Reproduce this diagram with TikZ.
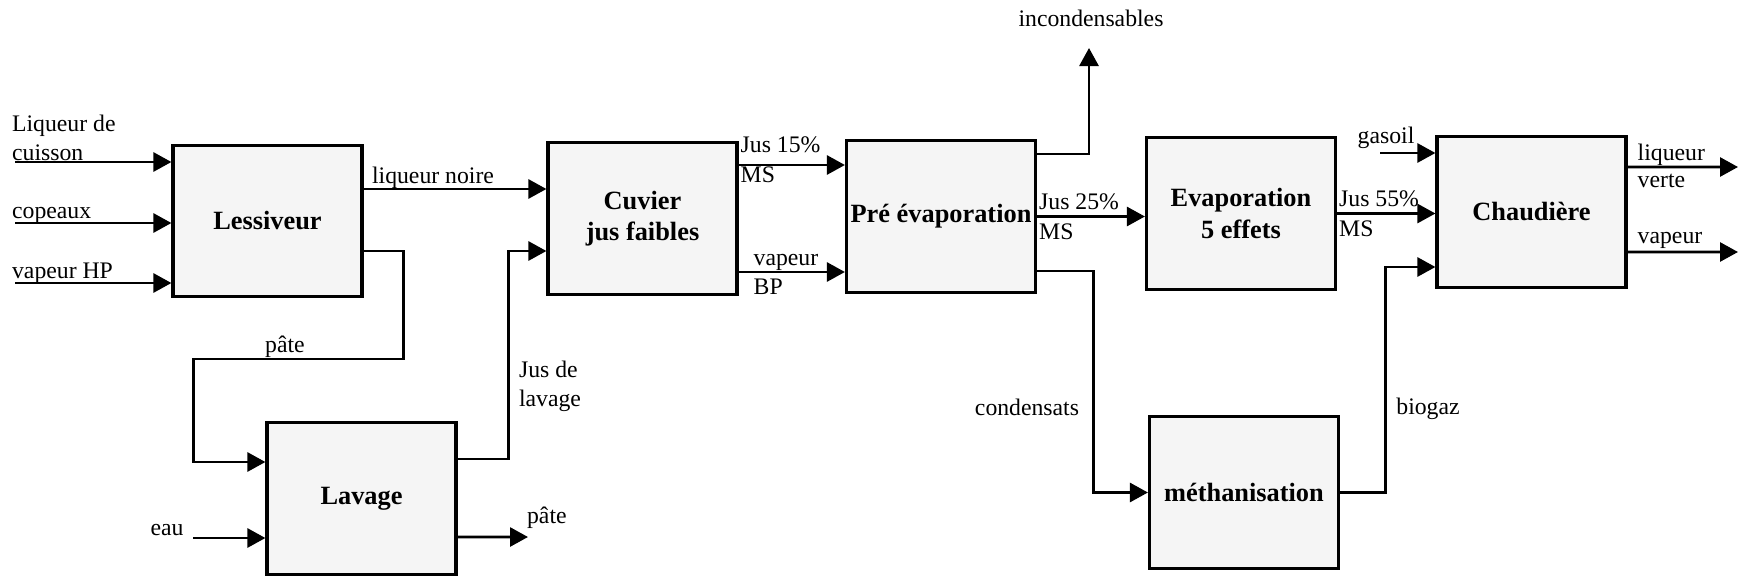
\documentclass[tikz,border=0pt]{standalone}
\usepackage{fontspec}
\setmainfont{Liberation Serif}
\usetikzlibrary{arrows.meta}

\begin{document}
\begin{tikzpicture}[x=1cm,y=1cm]
\tikzset{
  procbox/.style={rectangle,draw,line width=1.8pt,fill=black!4,minimum width=3.78cm,minimum height=3.03cm,inner sep=1pt,align=center,font=\fontsize{15}{18}\selectfont\bfseries},
  flow/.style={-{Triangle[length=3.6mm,width=3.8mm]},line width=1.6pt},
  lbl/.style={inner sep=1pt,align=left,font=\fontsize{13.5}{16.5}\selectfont},
  lblabove/.style={lbl,anchor=base west,yshift=1.4mm},
  lblbelow/.style={lbl,anchor=north west,yshift=-1mm}
}
\useasboundingbox (0,0) rectangle (34.84,11.62);
\node[procbox] (n_lessiveur) at (5.35,7.20) {Lessiveur};
\node[procbox] (n_cuvier) at (12.85,7.25) {Cuvier\\jus faibles};
\node[procbox] (n_preevap) at (18.82,7.29) {Pré évaporation};
\node[procbox] (n_evap) at (24.82,7.35) {Evaporation\\5 effets};
\node[procbox] (n_chaudiere) at (30.63,7.38) {Chaudière};
\node[procbox] (n_lavage) at (7.23,1.65) {Lavage};
\node[procbox] (n_metha) at (24.88,1.77) {méthanisation};
\coordinate (c_cuisson) at (0.3,8.38);
\coordinate (c_copeaux) at (0.3,7.16);
\coordinate (c_vapeurhp) at (0.3,5.96);
\coordinate (c_eau) at (3.86,0.86);
\coordinate (c_pate) at (10.56,0.88);
\coordinate (c_incond) at (21.78,10.66);
\coordinate (c_gasoil) at (27.6,8.56);
\coordinate (c_verte) at (34.76,8.28);
\coordinate (c_vapeur) at (34.76,6.58);
% entrees du lessiveur
\draw[flow] (c_cuisson) -- (c_cuisson -| n_lessiveur.west);
\draw[flow] (c_copeaux) -- (c_copeaux -| n_lessiveur.west);
\draw[flow] (c_vapeurhp) -- (c_vapeurhp -| n_lessiveur.west);
\node[lbl,anchor=south west] (l_cuisson) at (0.2,8.36) {Liqueur de\\cuisson};
\node[lbl,anchor=base west] (l_copeaux) at (0.2,7.26) {copeaux};
\node[lbl,anchor=base west] (l_vapeurhp) at (0.2,6.05) {vapeur HP};
% liqueur noire et pate
\draw[flow] ([yshift=6.4mm]n_lessiveur.east) coordinate (c_noire) -- (c_noire -| n_cuvier.west);
\node[lbl,anchor=base] (l_noire) at (8.66,7.96) {liqueur noire};
\draw[flow] ([yshift=-6mm]n_lessiveur.east) -- ++(0.8,0) -- ++(0,-2.16) -- ++(-4.2,0) |- ([yshift=7.3mm]n_lavage.west);
\node[lbl,anchor=base] (l_pate1) at (5.7,4.58) {pâte};
\draw[flow] ([yshift=7.9mm]n_lavage.east) -- ++(1.02,0) |- ([yshift=-6.5mm]n_cuvier.west);
\node[lbl,anchor=west] (l_juslav) at (10.34,3.9) {Jus de\\lavage};
\draw[flow] (c_eau) -- (c_eau -| n_lavage.west);
\node[lbl,anchor=base] (l_eau) at (3.34,0.92) {eau};
\draw[flow] ([yshift=-7.7mm]n_lavage.east) -- (c_pate);
\node[lbl,anchor=base west] (l_pate2) at (10.5,1.16) {pâte};
% cuvier -> pre evaporation
\draw[flow] ([yshift=10.7mm]n_cuvier.east) coordinate (c_j15) -- (c_j15 -| n_preevap.west);
\node[lblabove,yshift=1.2mm] (l_j15) at (c_j15) {Jus 15\%};
\node[lblbelow,yshift=1mm] (l_ms15) at (c_j15) {MS};
\draw[flow] ([yshift=-10.7mm]n_cuvier.east) coordinate (c_bp) -- (c_bp -| n_preevap.west);
\node[lblabove,xshift=2.6mm] (l_vapbp) at (c_bp) {vapeur};
\node[lblbelow,xshift=2.6mm] (l_bp) at (c_bp) {BP};
% pre evaporation
\draw[flow] ([yshift=12.5mm]n_preevap.east) -| (c_incond);
\node[lbl] (l_incond) at (21.82,11.26) {incondensables};
\draw[flow] (n_preevap.east) coordinate (c_j25) -- (c_j25 -| n_evap.west);
\node[lblabove] (l_j25) at (c_j25) {Jus 25\%};
\node[lblbelow] (l_ms25) at (c_j25) {MS};
\draw[flow] ([yshift=-10.9mm]n_preevap.east) -- ++(1.12,0) |- (n_metha.west);
\node[lbl] (l_cond) at (20.54,3.48) {condensats};
% chaudiere
\draw[flow] (n_evap.east) coordinate (c_j55) -- (c_j55 -| n_chaudiere.west);
\node[lblabove] (l_j55) at (c_j55) {Jus 55\%};
\node[lblbelow] (l_ms55) at (c_j55) {MS};
\draw[flow] (c_gasoil) -- (c_gasoil -| n_chaudiere.west);
\node[lbl,anchor=base] (l_gasoil) at (27.72,8.76) {gasoil};
\draw[flow] (n_metha.east) -- ++(0.9,0) |- ([yshift=-11mm]n_chaudiere.west);
\node[lbl] (l_biogaz) at (28.56,3.44) {biogaz};
\draw[flow] ([yshift=9mm]n_chaudiere.east) coordinate (c_lv) -- (c_verte);
\node[lblabove,xshift=1.6mm] (l_liqv) at (c_lv) {liqueur};
\node[lblbelow,xshift=1.6mm] (l_verte) at (c_lv) {verte};
\draw[flow] ([yshift=-8mm]n_chaudiere.east) coordinate (c_vp) -- (c_vapeur);
\node[lblabove,xshift=1.6mm,yshift=0.4mm] (l_vapeur) at (c_vp) {vapeur};
\end{tikzpicture}
\end{document}
